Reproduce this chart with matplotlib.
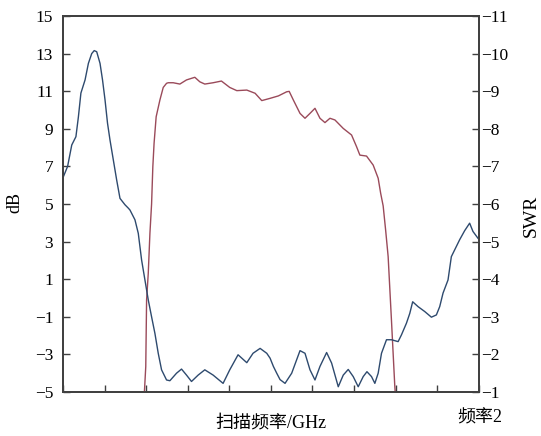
import matplotlib
matplotlib.use("Agg")
import matplotlib.pyplot as plt

plt.rcParams['font.family'] = ['Liberation Serif', 'Noto Sans CJK SC', 'DejaVu Sans']
plt.rcParams['axes.unicode_minus'] = True

# dB curve (red)
db_x = [1.95, 1.99, 2.01, 2.05, 2.09, 2.13, 2.16, 2.19, 2.24, 2.33, 2.41, 2.49, 2.53, 2.65,
        2.81, 2.97, 3.17, 3.29, 3.41, 3.61, 3.81, 4.01, 4.18, 4.42, 4.62, 4.78, 4.98,
        5.18, 5.38, 5.44, 5.54, 5.70, 5.82, 5.94, 6.06, 6.18, 6.30, 6.42, 6.54, 6.74,
        6.94, 7.06, 7.14, 7.30, 7.46, 7.58, 7.64, 7.70, 7.76, 7.82, 7.90, 7.98, 8.00]
db_y = [-5.3, -3.65, -0.1, 1.31, 3.44, 5.0, 6.98, 8.23, 9.64, 10.53, 11.2, 11.42, 11.45, 11.45,
        11.38, 11.6, 11.74, 11.5, 11.38, 11.45, 11.54, 11.2, 11.03, 11.06, 10.89, 10.5, 10.62,
        10.75, 10.97, 10.99, 10.53, 9.82, 9.56, 9.82, 10.09, 9.56, 9.33, 9.56, 9.47, 9.02,
        8.67, 8.05, 7.6, 7.55, 7.07, 6.37, 5.57, 4.9, 3.6, 2.2, -1.2, -4.7, -5.3]

# SWR curve (blue)
swr_x = [0.01, 0.11, 0.21, 0.31, 0.37, 0.43, 0.53, 0.61, 0.69, 0.75, 0.81, 0.89, 0.95, 1.01,
         1.07, 1.13, 1.21, 1.29, 1.37, 1.49, 1.57, 1.61, 1.73, 1.81, 1.89, 1.97, 2.05, 2.13,
         2.21, 2.29, 2.37, 2.49, 2.57, 2.73, 2.85, 2.97, 3.09, 3.25, 3.41, 3.61, 3.85, 4.01,
         4.21, 4.42, 4.57, 4.74, 4.90, 4.98, 5.06, 5.14, 5.22, 5.34, 5.50, 5.70, 5.82, 5.94,
         6.06, 6.18, 6.34, 6.46, 6.62, 6.74, 6.86, 6.98, 7.10, 7.22, 7.31, 7.42, 7.50, 7.58,
         7.66, 7.78, 7.90, 8.06, 8.14, 8.26, 8.34, 8.41, 8.54, 8.70, 8.86, 8.98, 9.06, 9.14,
         9.26, 9.34, 9.42, 9.54, 9.66, 9.78, 9.86, 9.98]
swr_y = [-6.73, -7.0, -7.57, -7.79, -8.32, -8.95, -9.3, -9.74, -10.0, -10.08, -10.05, -9.74,
         -9.3, -8.77, -8.15, -7.7, -7.17, -6.64, -6.15, -5.98, -5.89, -5.84, -5.58, -5.22,
         -4.51, -3.98, -3.45, -3.0, -2.56, -2.03, -1.59, -1.32, -1.3, -1.5, -1.61, -1.45,
         -1.28, -1.45, -1.59, -1.45, -1.23, -1.59, -1.99, -1.78, -2.03, -2.16, -2.03, -1.9,
         -1.68, -1.5, -1.33, -1.23, -1.5, -2.1, -2.03, -1.59, -1.32, -1.68, -2.05, -1.77,
         -1.14, -1.45, -1.6, -1.41, -1.14, -1.41, -1.54, -1.41, -1.23, -1.5, -2.03, -2.39,
         -2.39, -2.34, -2.52, -2.83, -3.09, -3.4, -3.27, -3.14, -2.99, -3.05, -3.27, -3.63,
         -3.98, -4.6, -4.78, -5.05, -5.29, -5.49, -5.27, -5.09]

left_ticks = [-5, -3, -1, 1, 3, 5, 7, 9, 11, 13, 15]
right_ticks = [-1, -2, -3, -4, -5, -6, -7, -8, -9, -10, -11]
x_ticks = [0, 1, 2, 3, 4, 5, 6, 7, 8, 9, 10]

fig = plt.figure(figsize=(5.41, 4.36), dpi=100)
ax = fig.add_axes([0.1165, 0.1009, 0.7685, 0.8624])
ax2 = ax.twinx()

ax.plot(db_x, db_y, color='#9a4a5a', lw=1.0, zorder=3)
ax2.plot(swr_x, swr_y, color='#2e4a6e', lw=1.0)

ax.set_xlim(0, 10)
ax.set_ylim(-5, 15)
ax2.set_ylim(-1, -11)
ax.set_xticks(x_ticks)
ax.set_xticklabels([])
ax.set_yticks(left_ticks)
ax2.set_yticks(right_ticks)

spine_col = '#404040'
for a in (ax, ax2):
    for s in a.spines.values():
        s.set_color(spine_col)
        s.set_linewidth(1.3)
ax.tick_params(axis='both', direction='in', length=5, width=1.0, color=spine_col,
               labelsize=12.5, pad=7)
ax.tick_params(axis='x', pad=4)
ax2.tick_params(axis='y', direction='in', length=5, width=1.0, color=spine_col,
                labelsize=12.5, pad=2)

fig.text(15 / 541, 1 - 202 / 436, 'dB', rotation=90, ha='center', va='center', fontsize=13)
fig.text(531 / 541, 1 - 216 / 436, 'SWR', rotation=90, ha='center', va='center', fontsize=14)
fig.text(271 / 541, 1 - 423 / 436, '扫描频率/GHz', ha='center', va='center', fontsize=13)
fig.text(480 / 541, 1 - 418 / 436, '频率2', ha='center', va='center', fontsize=13)

fig.savefig('out.png', dpi=100)
